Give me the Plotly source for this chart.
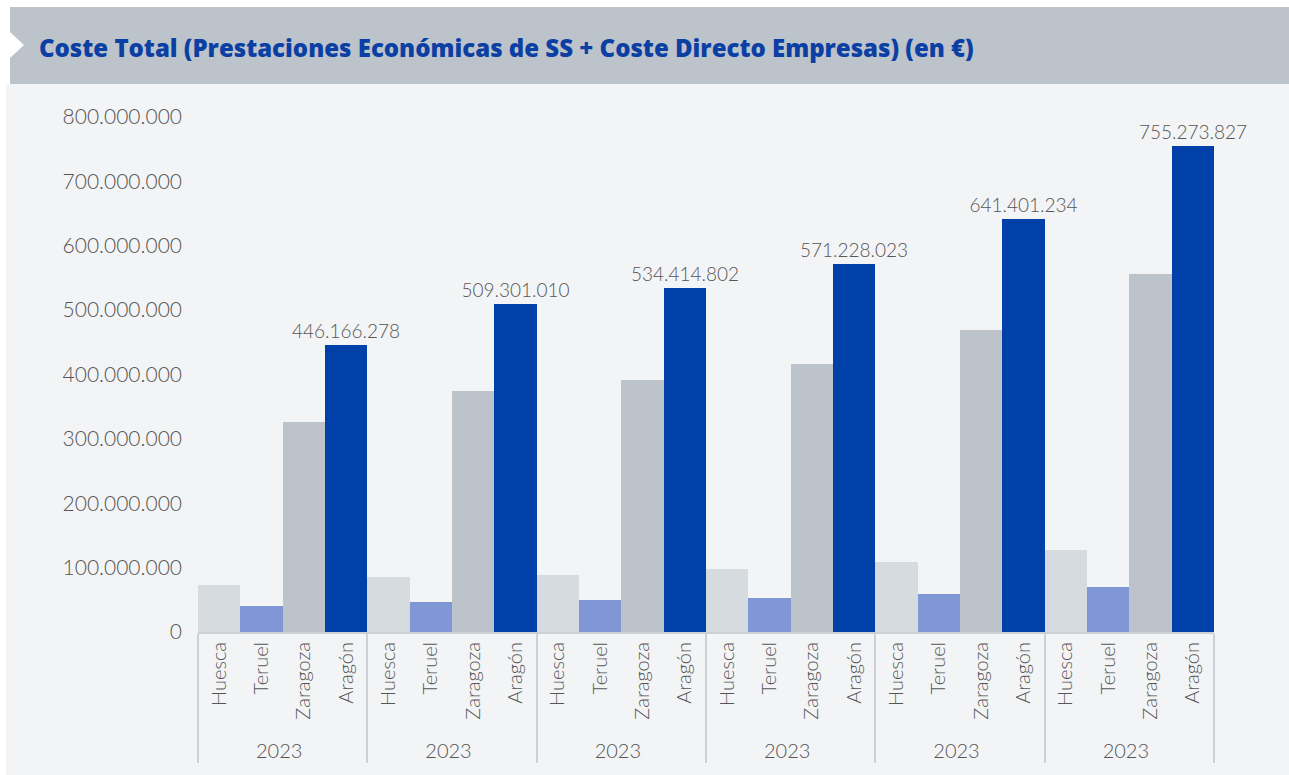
import plotly.graph_objects as go

# Coste total por provincia (en euros), seis bloques anuales
regions = ["Huesca", "Teruel", "Zaragoza", "Aragón"]
year_labels = ["2023", "2023", "2023", "2023", "2023", "2023"]

huesca = [73_100_000, 85_500_000, 88_600_000, 98_000_000, 108_900_000, 127_500_000]
teruel = [40_400_000, 46_700_000, 49_800_000, 52_900_000, 59_100_000, 70_000_000]
zaragoza = [326_600_000, 374_800_000, 391_900_000, 416_800_000, 469_700_000, 556_800_000]
aragon = [446_166_278, 509_301_010, 534_414_802, 571_228_023, 641_401_234, 755_273_827]

colors = {
    "Huesca": "#d6dbdf",
    "Teruel": "#7f97d4",
    "Zaragoza": "#bdc3ca",
    "Aragón": "#0040a8",
}

title = "Coste Total (Prestaciones Económicas de SS + Coste Directo Empresas) (en €)"

W, H = 1289, 775
L, R, T, B = 198, 75, 117, 143


def px(x):
    return (x - L) / (W - L - R)


def py(y):
    return (H - B - y) / (H - T - B)


# identical year labels kept distinct with zero-width spaces
outer = [lab + "\u200b" * i for i, lab in enumerate(year_labels)]

series = {"Huesca": huesca, "Teruel": teruel, "Zaragoza": zaragoza, "Aragón": aragon}
text_font = dict(family="Lato", size=19, color="#555555", weight=300)

fig = go.Figure()
for reg in regions:
    vals = series[reg]
    kw = {}
    if reg == "Aragón":
        kw = dict(
            text=vals,
            texttemplate="%{y:,d}",
            textposition="outside",
            constraintext="none",
            textfont=text_font,
            cliponaxis=False,
        )
    fig.add_trace(
        go.Bar(
            x=[outer, [reg] * len(vals)],
            y=vals,
            name=reg,
            marker=dict(color=colors[reg], line=dict(width=0)),
            **kw,
        )
    )

fig.update_layout(
    width=W,
    height=H,
    margin=dict(l=L, r=R, t=T, b=B),
    paper_bgcolor="white",
    plot_bgcolor="rgba(0,0,0,0)",
    barmode="overlay",
    bargap=0,
    showlegend=False,
    separators=",.",
    xaxis=dict(
        type="multicategory",
        tickangle=-90,
        showline=True,
        linecolor="#cdd1d6",
        linewidth=2,
        showdividers=True,
        dividercolor="#cdd1d6",
        dividerwidth=2,
        ticks="",
        tickfont=dict(family="Lato", size=20, color="#555555", weight=300),
        showgrid=False,
    ),
    yaxis=dict(
        range=[0, 800_000_000],
        dtick=100_000_000,
        tickformat=",d",
        showgrid=False,
        zeroline=False,
        showline=False,
        ticks="",
        ticklabelstandoff=15,
        tickfont=dict(family="Lato", size=21, color="#555555", weight=300),
    ),
    shapes=[
        dict(type="rect", xref="paper", yref="paper", layer="below",
             x0=px(6), x1=px(W), y0=py(H), y1=py(84),
             fillcolor="#f3f4f6", line=dict(width=0)),
        dict(type="rect", xref="paper", yref="paper", layer="below",
             x0=px(10), x1=px(W), y0=py(84), y1=py(7),
             fillcolor="#bcc3ca", line=dict(width=0)),
        dict(type="path", xref="paper", yref="paper", layer="below",
             path=f"M {px(10)},{py(32)} L {px(24)},{py(45)} L {px(10)},{py(58)} Z",
             fillcolor="white", line=dict(width=0)),
    ],
    annotations=[
        dict(xref="paper", yref="paper", x=px(37), y=py(48),
             xanchor="left", yanchor="middle", showarrow=False,
             text=title,
             font=dict(family="Open Sans", size=24, color="#0b3fa3", weight=800)),
    ],
)

fig.write_html("out.html")
